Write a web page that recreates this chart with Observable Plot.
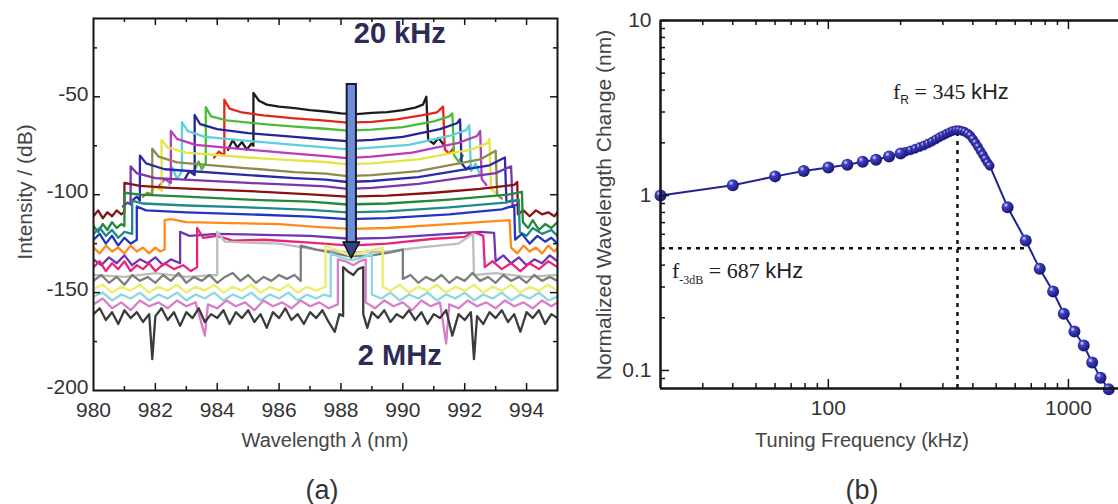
<!DOCTYPE html>
<html><head><meta charset="utf-8">
<script src="https://cdn.jsdelivr.net/npm/d3@7"></script>
<script src="https://cdn.jsdelivr.net/npm/@observablehq/plot@0.6"></script>
<style>
body{margin:0;background:#fff;}
#wrap{position:relative;width:1118px;height:504px;overflow:hidden;font-family:"Liberation Sans",Arial,sans-serif;color:#333;}
#left,#right{position:absolute;top:0;}
#left{left:0;}
#right{left:560px;}
.lbl{position:absolute;white-space:nowrap;transform:translate(-50%,-50%);}
.rot{transform:translate(-50%,-50%) rotate(-90deg);}
.ann{position:absolute;white-space:nowrap;transform:translate(0,-50%);font-family:"Liberation Serif","Times New Roman",serif;font-size:22px;color:#222;}
.ann .s{font-family:"Liberation Sans",Arial,sans-serif;}
.ann sub{font-size:12px;}
</style></head><body>
<div id="wrap">
<div id="left"></div><div id="right"></div>
<div class="lbl rot" style="left:25px;top:192px;font-size:21px;color:#444;">Intensity / (dB)</div>
<div class="lbl" style="left:325px;top:440px;font-size:20px;color:#444;">Wavelength <i>λ</i> (nm)</div>
<div class="lbl" style="left:322px;top:490px;font-size:27px;color:#333;">(a)</div>
<div class="lbl rot" style="left:604px;top:205px;font-size:21px;color:#444;">Normalized Wavelength Change (nm)</div>
<div class="lbl" style="left:862px;top:440px;font-size:20px;color:#444;">Tuning Frequency (kHz)</div>
<div class="lbl" style="left:862px;top:490px;font-size:27px;color:#333;">(b)</div>
<div class="ann" style="left:893px;top:93px;">f<sub class="s">R</sub> = 345 <span class="s">kHz</span></div>
<div class="ann" style="left:672px;top:273px;">f<sub>-3dB</sub> = 687 <span class="s">kHz</span></div>
</div>
<script>
// ---------- Panel (a): spectra (wavelength nm, intensity dB) ----------
const t01=[[984.35,-77],[984.5,-72],[984.65,-76],[984.8,-73],[984.95,-77],[985.1,-74],[985.17,-75],[985.17,-48],[985.35,-52],[985.6,-54],[986.0,-55],[986.5,-55.8],[987.0,-56.8],[987.5,-57.5],[988.0,-58.5],[988.5,-58.8],[989.0,-58.2],[989.5,-57.8],[990.0,-56.8],[990.4,-55.5],[990.65,-54],[990.76,-50],[990.82,-72],[991.0,-74],[991.15,-71],[991.3,-74]];
const t02=[[983.9,-81],[984.05,-78],[984.23,-80],[984.23,-51.5],[984.4,-56],[984.8,-58],[985.5,-59.5],[986.5,-61],[987.5,-62.2],[988.2,-63.2],[989.0,-62.8],[989.8,-61.5],[990.6,-59.5],[991.1,-58],[991.3,-55],[991.36,-77],[991.5,-79],[991.65,-76]];
const t03=[[983.25,-88],[983.4,-83],[983.5,-87],[983.63,-84],[983.63,-55.3],[983.8,-60],[984.3,-62],[985.5,-64],[986.5,-65.2],[987.5,-66.3],[988.2,-67.3],[989.0,-66.8],[990.0,-65.5],[991.0,-62.5],[991.5,-60],[991.6,-58.5],[991.66,-80],[991.8,-83],[991.95,-80]];
const t04=[[982.95,-92],[983.1,-88],[983.27,-90],[983.27,-59.3],[983.45,-64],[984.0,-66.5],[985.0,-68.5],[986.5,-70.5],[987.5,-71.8],[988.2,-72.6],[989.0,-72],[990.0,-70.5],[991.2,-66.5],[991.75,-63.5],[991.85,-61.5],[991.9,-84],[992.05,-87],[992.2,-85]];
const t05=[[982.45,-95],[982.55,-86],[982.7,-92],[982.86,-88],[982.86,-63],[983.05,-67.5],[983.6,-70.5],[985.0,-72.5],[986.5,-74.5],[987.5,-75.8],[988.2,-76.8],[989.0,-76],[990.2,-74.5],[991.5,-70],[992.05,-67],[992.15,-64.5],[992.2,-88],[992.35,-84],[992.5,-90]];
const t06=[[982.1,-96],[982.3,-92],[982.5,-94],[982.5,-67.4],[982.7,-71.5],[983.3,-74.5],[985.0,-77],[986.5,-79],[987.5,-80.3],[988.2,-81.3],[989.0,-80.5],[990.3,-78.5],[991.8,-73.5],[992.4,-70],[992.5,-67.5],[992.55,-92],[992.7,-95]];
const t07=[[981.85,-99],[982.0,-96],[982.2,-98],[982.2,-72],[982.4,-76],[983.0,-78.5],[985.0,-81],[986.5,-82.5],[987.5,-83.3],[988.2,-84.5],[989.0,-84],[990.5,-82],[992.2,-77],[992.75,-73.5],[992.8,-71.5],[992.85,-97],[993.0,-99]];
const t08=[[981.6,-101],[981.75,-99],[981.9,-100],[981.9,-76.5],[982.1,-80.5],[982.7,-83.5],[985.0,-86.5],[986.5,-88.5],[987.5,-89.2],[988.2,-90.5],[989.0,-90],[990.5,-88],[992.5,-82],[993.0,-77.5],[993.05,-100],[993.2,-102]];
const t09=[[981.25,-103],[981.4,-101],[981.5,-103],[981.5,-80],[981.7,-84],[982.3,-87],[985.0,-90],[986.5,-91.5],[987.5,-92.3],[988.2,-93.5],[989.0,-93],[990.5,-91],[992.8,-85],[993.3,-81],[993.35,-104],[993.5,-103]];
const t10=[[980.95,-106],[981.1,-104],[981.2,-105],[981.2,-85.5],[981.4,-89],[982.0,-91.5],[985.0,-94],[986.5,-95],[987.5,-95.7],[988.2,-97],[989.0,-96.5],[990.5,-94.5],[993.0,-89],[993.5,-85.5],[993.55,-106],[993.7,-105]];
const t11=[[980.0,-111],[980.15,-108],[980.3,-112],[980.45,-109],[980.6,-111],[980.75,-108],[980.9,-110],[981.0,-109],[981.0,-94],[981.5,-95.5],[982.5,-96.5],[984.0,-97.5],[985.5,-98.5],[987.0,-99.8],[988.2,-101],[989.5,-100.5],[991.0,-99],[992.5,-97],[993.6,-95],[993.7,-93.5],[993.72,-110],[993.9,-108],[994.1,-111],[994.3,-108],[994.5,-110],[994.7,-109],[994.9,-111],[995.0,-109]];
const t12=[[980.0,-116],[980.15,-119],[980.3,-115],[980.45,-118],[980.6,-114],[980.75,-117],[980.9,-115],[981.0,-116],[981.0,-99],[981.5,-100],[983.0,-101],[985.0,-102.5],[987.0,-103.5],[988.2,-105],[989.5,-104.5],[991.5,-102.5],[993.4,-100],[993.85,-98.5],[993.88,-114],[994.05,-117],[994.2,-113],[994.4,-118],[994.6,-115],[994.8,-117],[995.0,-114]];
const t13=[[980.0,-120],[980.2,-117],[980.4,-121],[980.6,-118],[980.8,-122],[981.0,-119],[981.25,-120],[981.25,-103],[981.6,-104.5],[983.0,-105.5],[985.0,-106.5],[987.0,-107.7],[988.2,-109],[989.5,-108.5],[991.5,-106.5],[993.3,-104],[993.75,-102.5],[993.78,-119],[994.0,-121],[994.2,-117],[994.5,-120],[994.8,-118],[995.0,-121]];
const t14=[[980.0,-123],[980.2,-120],[980.4,-125],[980.6,-121],[980.8,-126],[981.0,-122],[981.2,-125],[981.4,-123],[981.4,-106],[981.7,-108],[983.0,-109],[985.0,-110],[987.0,-111.2],[988.2,-112.5],[989.5,-112],[991.5,-110],[993.2,-107.5],[993.6,-105.5],[993.63,-123],[993.85,-120],[994.1,-125],[994.35,-121],[994.6,-124],[994.8,-122],[995.0,-125]];
const t15=[[980.0,-127],[980.2,-130],[980.4,-126],[980.6,-129],[980.8,-127],[981.0,-130],[981.2,-126],[981.4,-129],[981.6,-127],[981.8,-130],[982.0,-127],[982.15,-129],[982.3,-128],[982.3,-113],[982.5,-112.5],[983.0,-114],[984.5,-114.5],[986.0,-115],[987.2,-116.4],[988.3,-117.5],[989.5,-117],[991.0,-115.5],[992.5,-114],[993.45,-113],[993.5,-127],[993.7,-130],[993.9,-126],[994.1,-129],[994.3,-127],[994.5,-130],[994.7,-126],[994.9,-129],[995.0,-127]];
const t16=[[980.0,-133],[980.25,-136],[980.5,-132],[980.75,-135],[981.0,-131],[981.25,-136],[981.5,-133],[981.75,-135],[982.0,-132],[982.25,-136],[982.5,-133],[982.8,-135],[982.8,-119],[983.1,-121],[984.0,-120],[985.5,-120.5],[987.0,-121],[988.3,-122.5],[989.5,-122],[991.0,-120.5],[992.5,-119],[992.95,-119.5],[993.0,-134],[993.25,-131],[993.5,-135],[993.75,-132],[994.0,-136],[994.25,-133],[994.5,-135],[994.75,-131],[995.0,-134]];
const t17=[[980.0,-137],[980.2,-134],[980.4,-139],[980.6,-135],[980.8,-138],[981.0,-134],[981.2,-139],[981.4,-136],[981.6,-138],[981.8,-135],[982.0,-139],[982.3,-135],[982.6,-138],[982.9,-136],[983.15,-139],[983.35,-137],[983.35,-117],[983.55,-122],[984.0,-121],[984.5,-123.5],[985.5,-123],[987.0,-124.5],[988.3,-126],[989.5,-125],[991.0,-122.5],[992.0,-121.5],[992.3,-119],[992.6,-121],[992.65,-137],[992.9,-134],[993.2,-138],[993.5,-135],[993.8,-139],[994.1,-135],[994.4,-138],[994.7,-134],[995.0,-137]];
const t18=[[980.0,-141],[981.0,-142],[982.0,-140],[983.0,-142],[984.0,-141],[984.0,-119],[984.25,-124],[985.0,-124.5],[986.0,-125],[987.2,-128],[988.3,-129.5],[989.5,-129],[990.5,-127],[991.8,-125],[992.27,-120],[992.3,-141],[993.0,-140],[994.0,-142],[995.0,-141]];
const t19=[[980.0,-144],[980.25,-141],[980.5,-145],[980.75,-142],[981.0,-146],[981.25,-141],[981.5,-144],[981.75,-142],[982.0,-145],[982.25,-141],[982.5,-144],[982.75,-140],[983.0,-145],[983.25,-142],[983.5,-144],[983.75,-141],[984.0,-145],[984.25,-142],[984.5,-140],[984.75,-144],[985.0,-141],[985.25,-145],[985.5,-142],[985.75,-144],[986.0,-141],[986.25,-143],[986.5,-141],[986.7,-144],[986.7,-126],[987.2,-128],[987.8,-130],[988.3,-131.5],[989.0,-131],[989.6,-129.5],[990.0,-128],[990.0,-143],[990.25,-141],[990.5,-145],[990.75,-142],[991.0,-144],[991.25,-141],[991.5,-145],[991.75,-142],[992.0,-144],[992.25,-140],[992.5,-144],[992.75,-142],[993.0,-145],[993.25,-141],[993.5,-144],[993.75,-142],[994.0,-145],[994.25,-141],[994.5,-144],[994.75,-142],[995.0,-144]];
const t20=[[980.0,-148],[980.3,-146],[980.6,-150],[980.9,-147],[981.2,-149],[981.5,-146],[981.8,-150],[982.1,-147],[982.4,-149],[982.7,-146],[983.0,-150],[983.3,-147],[983.6,-149],[983.9,-146],[984.2,-150],[984.5,-147],[984.8,-149],[985.1,-146],[985.4,-150],[985.7,-147],[986.0,-149],[986.3,-146],[986.6,-150],[986.9,-147],[987.2,-149],[987.5,-147],[987.5,-126],[987.9,-128.5],[988.3,-131],[988.8,-129],[989.35,-127],[989.35,-147],[989.6,-149],[989.9,-146],[990.2,-150],[990.5,-147],[990.8,-149],[991.1,-146],[991.4,-150],[991.7,-147],[992.0,-149],[992.3,-146],[992.6,-150],[992.9,-147],[993.2,-149],[993.5,-146],[993.8,-150],[994.1,-147],[994.4,-149],[994.7,-146],[995.0,-149]];
const t21=[[980.0,-152],[980.3,-150],[980.6,-154],[980.9,-151],[981.2,-153],[981.5,-150],[981.8,-154],[982.1,-151],[982.4,-153],[982.7,-150],[983.0,-154],[983.3,-151],[983.6,-153],[983.9,-150],[984.2,-154],[984.5,-151],[984.8,-153],[985.1,-150],[985.4,-154],[985.7,-151],[986.0,-153],[986.3,-150],[986.6,-154],[986.9,-151],[987.2,-153],[987.45,-151],[987.67,-152],[987.67,-130],[988.0,-132],[988.35,-133.5],[988.7,-132],[989.0,-130],[989.0,-151],[989.3,-153],[989.6,-150],[989.9,-154],[990.2,-151],[990.5,-153],[990.8,-150],[991.1,-154],[991.4,-151],[991.7,-153],[992.0,-150],[992.3,-154],[992.6,-151],[992.9,-153],[993.2,-150],[993.5,-154],[993.8,-151],[994.1,-153],[994.4,-150],[994.7,-154],[995.0,-152]];
const t22=[[980.0,-156],[980.3,-153],[980.6,-158],[980.9,-155],[981.2,-159],[981.5,-154],[981.8,-157],[982.1,-155],[982.4,-158],[982.7,-154],[983.0,-157],[983.3,-155],[983.6,-172],[983.7,-156],[984.0,-158],[984.3,-154],[984.6,-157],[984.9,-155],[985.2,-159],[985.5,-154],[985.8,-157],[986.1,-155],[986.4,-158],[986.7,-154],[987.0,-157],[987.3,-155],[987.6,-158],[987.9,-156],[987.9,-133],[988.15,-134],[988.4,-136],[988.6,-134],[988.8,-133],[988.8,-155],[989.1,-158],[989.4,-154],[989.7,-157],[990.0,-155],[990.3,-159],[990.6,-154],[990.9,-157],[991.2,-155],[991.4,-176],[991.5,-156],[991.8,-158],[992.1,-154],[992.4,-157],[992.7,-155],[993.0,-158],[993.3,-154],[993.6,-157],[993.9,-155],[994.2,-158],[994.5,-154],[994.8,-157],[995.0,-155]];
const t23=[[980.0,-161],[980.2,-158],[980.4,-164],[980.6,-160],[980.8,-166],[981.0,-159],[981.2,-163],[981.4,-160],[981.6,-165],[981.8,-161],[981.9,-184],[982.0,-162],[982.2,-158],[982.4,-164],[982.6,-160],[982.8,-167],[983.0,-160],[983.2,-163],[983.4,-158],[983.6,-165],[983.8,-161],[984.0,-163],[984.2,-159],[984.4,-166],[984.6,-160],[984.8,-163],[985.0,-159],[985.2,-165],[985.4,-161],[985.6,-168],[985.8,-160],[986.0,-163],[986.2,-158],[986.4,-164],[986.6,-161],[986.8,-166],[987.0,-160],[987.2,-163],[987.4,-159],[987.6,-165],[987.8,-170],[987.95,-161],[988.07,-162],[988.07,-137],[988.25,-139.5],[988.4,-141],[988.55,-138],[988.72,-137],[988.72,-161],[988.85,-168],[989.0,-160],[989.2,-163],[989.4,-159],[989.6,-165],[989.8,-161],[990.0,-163],[990.2,-159],[990.4,-164],[990.6,-160],[990.8,-166],[991.0,-161],[991.2,-163],[991.4,-159],[991.6,-172],[991.8,-161],[992.0,-164],[992.2,-160],[992.3,-184],[992.4,-162],[992.6,-166],[992.8,-160],[993.0,-163],[993.2,-159],[993.4,-165],[993.6,-161],[993.8,-170],[994.0,-160],[994.2,-163],[994.4,-159],[994.6,-166],[994.8,-161],[995.0,-163]];
const traces=[t01,t02,t03,t04,t05,t06,t07,t08,t09,t10,t11,t12,t13,t14,t15,t16,t17,t18,t19,t20,t21,t22,t23];
const traceColors=["#1c1c1c","#e3261c","#4cbb3a","#24249a","#5ccfe0","#b93cb9","#e4e445","#8b8a50","#2b2ba5","#7b35ad","#8a1212","#23883a","#1f8a8a","#2236c0","#ff8a18","#6f35b5","#e8257c","#bdbdbd","#7d7d7d","#eded6a","#8ad8e0","#d67fc8","#3b3b3b"];
const xTickLabels=[980,982,984,986,988,990,992,994];
const xMinorTicks=[981,983,985,987,989,991,993];
const xMajorTicks=[982,984,986,988,990,992,994];
const yTickLabels=[-50,-100,-150,-200];
const yMajorTicks=[-50,-100,-150];
const yMinorTicks=[-175,-125,-75,-25];
// arrow and labels (annotation anchors in data units)
const arrowShaft=[{x1:988.2,x2:988.5,y1:-124.4,y2:-43.7}];
const arrowHead=[{x:988.08,top:-124.4,tip:-124.4},{x:988.35,top:-124.4,tip:-132.6},{x:988.62,top:-124.4,tip:-124.4}];
const freqLabels=[{x:989.9,y:-17.7,text:"20 kHz"},{x:989.9,y:-182,text:"2 MHz"}];

// ---------- Panel (b): frequency response ----------
const sparseFreq=[20,40,60,79,100,120,139,158,179,200,558,664,759,863,956,1059,1158,1255,1360,1472];
const sparseVal=[1.0,1.144,1.286,1.38,1.445,1.5,1.56,1.6,1.67,1.74,0.857,0.553,0.381,0.283,0.211,0.167,0.139,0.111,0.091,0.078];
const denseFreq=[210,220,230,240,250,260,270,280,290,300,310,320,330,340,350,360,370,380,390,400,410,420,430,440,450,460,470];
const denseVal=[1.78,1.81,1.85,1.89,1.93,1.98,2.03,2.09,2.15,2.2,2.25,2.3,2.34,2.36,2.36,2.34,2.31,2.26,2.2,2.1,2.0,1.9,1.8,1.71,1.62,1.54,1.48];
const fR=345, fR_peak=2.34, f3dB=687, halfLevel=0.5;
const bYLabels=[0.1,1,10];
const bYMinor=[0.09,0.2,0.3,0.4,0.5,0.6,0.7,0.8,0.9,2,3,4,5,6,7,8,9];
const bXLabels=[100,1000];
const bXMinor=[30,40,50,60,70,80,90,200,300,400,500,600,700,800,900];

const FONT='"Liberation Sans", Arial, sans-serif';
const ink="#151515";

// ----- build panel (a)
const fhA=372, fwA=464;
const left=Plot.plot({
  width:560,height:504,marginLeft:93,marginRight:3,marginTop:18,marginBottom:114,
  x:{domain:[980,995]}, y:{domain:[-200,-10]},
  style:{fontFamily:FONT,fontSize:"21px",color:"#333",background:"transparent"},
  marks:[
    ...traces.map((t,i)=>Plot.line(t,{x:d=>d[0],y:d=>d[1],stroke:traceColors[i],strokeWidth:2.3,clip:true})),
    Plot.areaY(arrowHead,{x:"x",y1:"top",y2:"tip",fill:"#33457e",stroke:"#111",strokeWidth:1.5}),
    Plot.rect(arrowShaft,{x1:"x1",x2:"x2",y1:"y1",y2:"y2",fill:"#6b8fd4",stroke:"#1a1a3a",strokeWidth:2}),
    Plot.text(freqLabels,{x:"x",y:"y",text:"text",fontSize:29,fontWeight:"bold",fill:"#2b2b55",fontFamily:FONT}),
    Plot.tickX(xMajorTicks,{x:d=>d,insetTop:fhA-7,stroke:ink,strokeWidth:1.5}),
    Plot.tickX(xMinorTicks,{x:d=>d,insetTop:fhA-4,stroke:ink,strokeWidth:1.5}),
    Plot.tickX(xMajorTicks,{x:d=>d,insetBottom:fhA-7,stroke:ink,strokeWidth:1.5}),
    Plot.tickX(xMinorTicks,{x:d=>d,insetBottom:fhA-4,stroke:ink,strokeWidth:1.5}),
    Plot.tickY(yMajorTicks,{y:d=>d,insetRight:fwA-7,stroke:ink,strokeWidth:1.5}),
    Plot.tickY(yMinorTicks,{y:d=>d,insetRight:fwA-4,stroke:ink,strokeWidth:1.5}),
    Plot.tickY(yMajorTicks,{y:d=>d,insetLeft:fwA-7,stroke:ink,strokeWidth:1.5}),
    Plot.tickY(yMinorTicks,{y:d=>d,insetLeft:fwA-4,stroke:ink,strokeWidth:1.5}),
    Plot.axisX({ticks:xTickLabels,tickSize:0,tickPadding:12,tickFormat:d=>String(d),label:null,fontSize:21}),
    Plot.axisY({ticks:yTickLabels,tickSize:0,tickPadding:5,tickFormat:d=>String(d),label:null,fontSize:21,dy:-3}),
    Plot.frame({stroke:ink,strokeWidth:2})
  ]
});
document.getElementById("left").append(left);

// ----- build panel (b)
const bSparse=sparseFreq.map((f,i)=>({f,v:sparseVal[i]}));
const bDense=denseFreq.map((f,i)=>({f,v:denseVal[i]}));
const bAll=bSparse.concat(bDense).sort((a,b)=>a.f-b.f);
const fhB=368, fwB=458;
const yMin=0.0789, yMax=10, xMin=20;
const right=Plot.plot({
  width:558,height:504,marginLeft:100,marginRight:0,marginTop:20,marginBottom:116,
  x:{type:"log",domain:[xMin,1616]}, y:{type:"log",domain:[yMin,yMax]},
  style:{fontFamily:FONT,fontSize:"21px",color:"#333",background:"transparent",overflow:"visible"},
  marks:[
    Plot.ruleY([halfLevel],{x1:xMin,x2:f3dB,stroke:"#111",strokeWidth:2.5,strokeDasharray:"4,5"}),
    Plot.ruleX([fR],{y1:yMin,y2:fR_peak,stroke:"#111",strokeWidth:2.5,strokeDasharray:"4,5"}),
    Plot.line(bAll,{x:"f",y:"v",stroke:"#23238c",strokeWidth:2}),
    Plot.dot(bDense,{x:"f",y:"v",r:4.5,fill:"url(#ball)",stroke:"#1b1b7a",strokeWidth:0.6}),
    Plot.dot(bSparse,{x:"f",y:"v",r:6,fill:"url(#ball)"}),
    Plot.tickY(bYLabels,{y:d=>d,insetRight:fwB-9,stroke:ink,strokeWidth:1.5}),
    Plot.tickY(bYMinor,{y:d=>d,insetRight:fwB-5,stroke:ink,strokeWidth:1.5}),
    Plot.tickX(bXLabels,{x:d=>d,insetTop:fhB-9,stroke:ink,strokeWidth:1.5}),
    Plot.tickX(bXMinor,{x:d=>d,insetTop:fhB-5,stroke:ink,strokeWidth:1.5}),
    Plot.tickX(bXLabels,{x:d=>d,insetBottom:fhB-9,stroke:ink,strokeWidth:1.5}),
    Plot.tickX(bXMinor,{x:d=>d,insetBottom:fhB-5,stroke:ink,strokeWidth:1.5}),
    Plot.ruleX([xMin],{stroke:ink,strokeWidth:2.5}),
    Plot.ruleY([yMin,yMax],{stroke:ink,strokeWidth:2.5}),
    Plot.axisX({ticks:bXLabels,tickSize:0,tickPadding:12,tickFormat:d=>String(d),label:null,fontSize:21}),
    Plot.axisY({ticks:bYLabels,tickSize:0,tickPadding:9,tickFormat:d=>String(d),label:null,fontSize:21})
  ]
});
const ns="http://www.w3.org/2000/svg";
const defs=document.createElementNS(ns,"defs");
defs.innerHTML='<radialGradient id="ball" cx="0.36" cy="0.32" r="0.72"><stop offset="0" stop-color="#dcdfff"/><stop offset="0.28" stop-color="#4040c4"/><stop offset="1" stop-color="#13136a"/></radialGradient>';
right.prepend(defs);
document.getElementById("right").append(right);
</script>
</body></html>
